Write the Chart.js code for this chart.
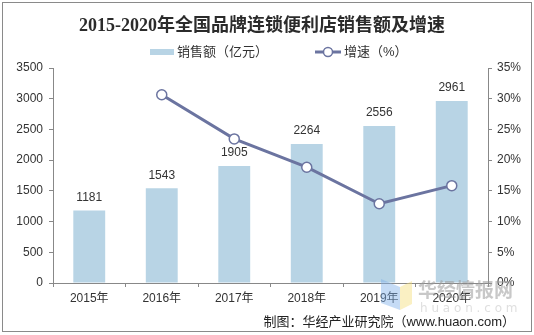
<!DOCTYPE html>
<html>
<head>
<meta charset="utf-8">
<script src="https://cdn.jsdelivr.net/npm/chart.js@4"></script>
<style>
  html, body { margin: 0; padding: 0; background: #fff; }
  #wrap { width: 534px; height: 335px; position: relative; }
</style>
</head>
<body>
<div id="wrap"><canvas id="salesChart" width="534" height="335"></canvas></div>
<script>
// yearly sales (亿元) and growth rate (%)
const years = ["2015年", "2016年", "2017年", "2018年", "2019年", "2020年"];
const sales = [1181, 1543, 1905, 2264, 2556, 2961];
const growth = [null, 30.65, 23.46, 18.85, 12.90, 15.85];

const barColor = "#b8d4e5";
const lineColor = "#6b74a0";
const axisColor = "#888888";
const textColor = "#333333";
const cnFont = "'Liberation Sans', 'Noto Sans CJK SC', sans-serif";

// title, legend, value labels, footer and frame drawn straight on the canvas
const decorations = {
  id: "decorations",
  afterDraw(chart) {
    const ctx = chart.ctx;
    ctx.save();

    // frame
    ctx.strokeStyle = "#8a8a8a";
    ctx.lineWidth = 1;
    ctx.strokeRect(2.5, 2.5, 529, 329);

    // title
    ctx.fillStyle = "#2b2b2b";
    ctx.font = "bold 18px 'Liberation Serif', 'Noto Sans CJK SC', serif";
    ctx.textAlign = "center";
    ctx.textBaseline = "middle";
    ctx.fillText("2015-2020年全国品牌连锁便利店销售额及增速", 262, 26);

    // legend
    ctx.font = "13px " + cnFont;
    ctx.textAlign = "left";
    ctx.fillStyle = barColor;
    ctx.fillRect(150, 49, 24, 6);
    ctx.fillStyle = textColor;
    ctx.fillText("销售额（亿元）", 177, 52);
    ctx.strokeStyle = lineColor;
    ctx.lineWidth = 3;
    ctx.beginPath();
    ctx.moveTo(315, 52);
    ctx.lineTo(341, 52);
    ctx.stroke();
    ctx.fillStyle = "#fff";
    ctx.lineWidth = 1.5;
    ctx.beginPath();
    ctx.arc(328, 52, 4.5, 0, Math.PI * 2);
    ctx.fill();
    ctx.stroke();
    ctx.fillStyle = textColor;
    ctx.fillText("增速（%）", 344, 52);

    // watermark
    ctx.globalAlpha = 0.45;
    ctx.fillStyle = "#7fb0e8";
    ctx.beginPath();
    ctx.moveTo(381, 279); ctx.lineTo(400, 287); ctx.lineTo(400, 310); ctx.lineTo(381, 303);
    ctx.closePath(); ctx.fill();
    ctx.fillStyle = "#f5dd7a";
    ctx.beginPath();
    ctx.moveTo(400, 287); ctx.lineTo(412, 281); ctx.lineTo(412, 304); ctx.lineTo(400, 310);
    ctx.closePath(); ctx.fill();
    ctx.globalAlpha = 0.55;
    ctx.fillStyle = "#9a9a9a";
    ctx.font = "bold 19px 'Noto Sans CJK SC', sans-serif";
    ctx.textAlign = "left";
    ctx.textBaseline = "middle";
    ctx.fillText("华经情报网", 418, 290);
    ctx.fillStyle = "#c4c4c4";
    ctx.font = "12px 'DejaVu Sans', sans-serif";
    ctx.fillText("h u a o n . c o m", 420, 309);
    ctx.globalAlpha = 1;

    // footer
    ctx.fillStyle = "#222";
    ctx.font = "13px " + cnFont;
    ctx.textAlign = "right";
    ctx.fillText("制图：华经产业研究院（www.huaon.com）", 515, 322);

    ctx.restore();
  },
  // value labels above bars, under the growth line
  afterDatasetDraw(chart, args) {
    if (args.index !== 1) return;
    const ctx = chart.ctx;
    ctx.save();
    ctx.fillStyle = textColor;
    ctx.font = "12px 'Liberation Sans', sans-serif";
    ctx.textAlign = "center";
    ctx.textBaseline = "bottom";
    args.meta.data.forEach((bar, i) => {
      ctx.fillText(String(sales[i]), bar.x, bar.y - 7);
    });
    ctx.restore();
  }
};

new Chart(document.getElementById("salesChart"), {
  data: {
    labels: years,
    datasets: [
      {
        type: "line",
        label: "增速（%）",
        data: growth,
        yAxisID: "y1",
        borderColor: lineColor,
        borderWidth: 3,
        pointRadius: 5,
        pointBackgroundColor: "#ffffff",
        pointBorderColor: lineColor,
        pointBorderWidth: 1.5,
        tension: 0,
        order: 0
      },
      {
        type: "bar",
        label: "销售额（亿元）",
        data: sales,
        yAxisID: "y",
        backgroundColor: barColor,
        barPercentage: 0.44,
        categoryPercentage: 1,
        order: 1
      }
    ]
  },
  options: {
    responsive: false,
    animation: false,
    layout: { padding: { top: 68, left: 0, right: 0, bottom: 0 } },
    plugins: {
      legend: { display: false },
      title: { display: false },
      tooltip: { enabled: false }
    },
    scales: {
      x: {
        grid: { drawOnChartArea: false, color: axisColor, tickLength: 4, offset: true },
        border: { color: axisColor },
        ticks: { color: textColor, font: { size: 12, family: cnFont }, padding: 4, maxRotation: 0 },
        afterFit(scale) { scale.height = 52; }
      },
      y: {
        position: "left",
        min: 0,
        max: 3500,
        ticks: {
          stepSize: 500,
          color: textColor,
          font: { size: 12, family: "'Liberation Sans', sans-serif" },
          padding: 6,
          callback: v => String(v)
        },
        grid: { drawOnChartArea: false, color: axisColor, tickLength: 4 },
        border: { color: axisColor },
        afterFit(scale) { scale.width = 53; }
      },
      y1: {
        position: "right",
        min: 0,
        max: 35,
        ticks: {
          stepSize: 5,
          color: textColor,
          font: { size: 12, family: "'Liberation Sans', sans-serif" },
          padding: 5,
          callback: v => v + "%"
        },
        grid: { drawOnChartArea: false, color: axisColor, tickLength: 4 },
        border: { color: axisColor },
        afterFit(scale) { scale.width = 46; }
      }
    }
  },
  plugins: [decorations]
});
</script>
</body>
</html>
